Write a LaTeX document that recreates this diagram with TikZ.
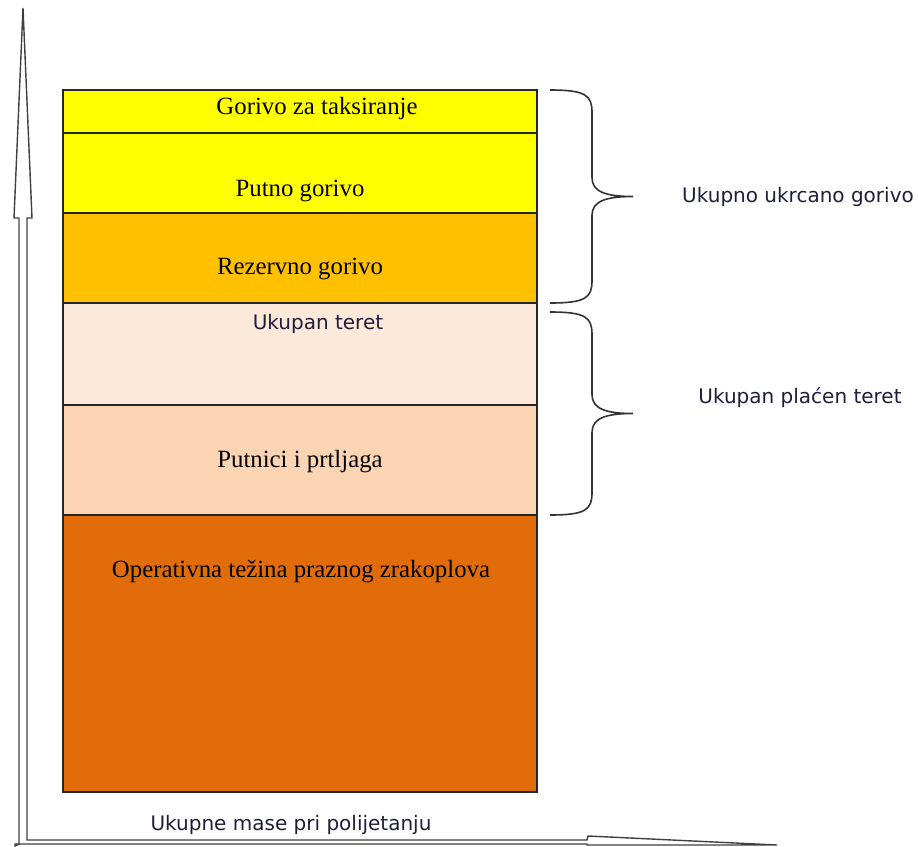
\documentclass[tikz,border=0pt]{standalone}
\usepackage{fontspec}
\setmainfont{Liberation Serif}
\newfontfamily\labelsans{DejaVu Sans}
\usepackage{xcolor}
\definecolor{fuelYellow}{HTML}{FFFF00}
\definecolor{fuelOrange}{HTML}{FFC000}
\definecolor{loadLight}{HTML}{FDE9D9}
\definecolor{loadPeach}{HTML}{FBD4B4}
\definecolor{oewOrange}{HTML}{E36C0A}
\definecolor{axisGrey}{HTML}{404040}
\definecolor{sansInk}{HTML}{1E1E3C}

\begin{document}
\begin{tikzpicture}[x=0.5pt,y=-0.5pt,
    band/.style={draw=black!85,line width=0.6pt},
    serifLabel/.style={font=\fontsize{12.4}{15}\selectfont,text=black},
    sansLabel/.style={font=\labelsans\fontsize{10}{12}\selectfont,text=sansInk},
    brace/.style={draw=black!80,line width=0.8pt},
    pics/curly/.style={code={
        \draw[brace] (-83,-#1) .. controls (-48,-#1) and (-41,-#1+5) .. (-41,-#1+22)
            -- (-41,-19) .. controls (-41,-5) and (-28,0) .. (0,0)
            .. controls (-28,0) and (-41,5) .. (-41,19)
            -- (-41,#1-22) .. controls (-41,#1-5) and (-48,#1) .. (-83,#1);
    }}]
    \useasboundingbox (0,0) rectangle (918,847);

    % the stacked masses
    \foreach \top/\bot/\fc in {90/133/fuelYellow,133/213/fuelYellow,213/303/fuelOrange,
                               303/405/loadLight,405/515/loadPeach,515/792/oewOrange}{
        \draw[band,fill=\fc] (63,\top) rectangle (537,\bot);
    }
    \node[serifLabel] (taxi) at (317,109) {Gorivo za taksiranje};
    \node[serifLabel] (trip) at (300,191) {Putno gorivo};
    \node[serifLabel] (reserve) at (300,269) {Rezervno gorivo};
    \node[sansLabel] (load) at (318,324) {Ukupan teret};
    \node[serifLabel] (pax) at (300,462) {Putnici i prtljaga};
    \node[serifLabel] (oew) at (301,572) {Operativna težina praznog zrakoplova};

    % braces
    \pic at (633,196.5) {curly=106.5};
    \pic at (633,413.5) {curly=101.5};
    \node[sansLabel] (fuel) at (798,197) {Ukupno ukrcano gorivo};
    \node[sansLabel] (payload) at (800,398) {Ukupan plaćen teret};

    % axes
    \draw[axisGrey,line width=0.7pt,fill=white]
        (19,844) -- (19,218) -- (14,218) -- (23,8) -- (32,218) -- (27,218)
        -- (27,840) -- (587,840) -- (588,836) -- (777,845) -- (587,845)
        -- (587,844) -- (15,844) -- (15,846) -- cycle;
    \node[sansLabel] (mass) at (291,825) {Ukupne mase pri polijetanju};
\end{tikzpicture}
\end{document}
